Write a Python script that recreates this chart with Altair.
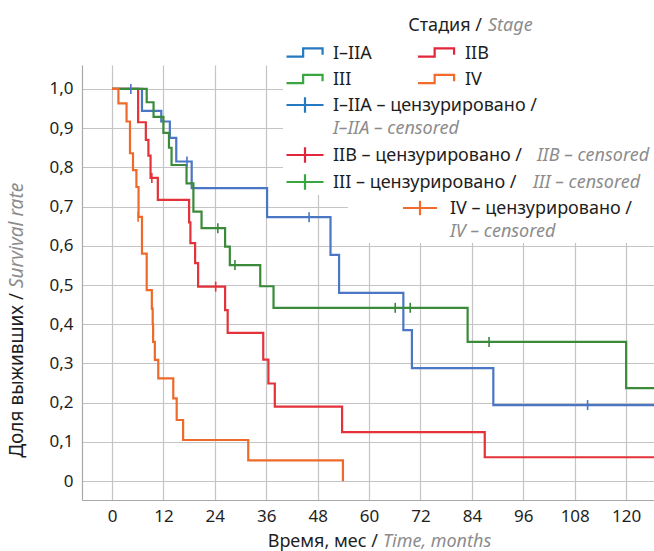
import altair as alt
import pandas as pd

# ---------------- data ----------------
stage_names = ["I–IIA", "IIB", "III", "IV"]

# step curves: time (months) and survival after each event
t_i_iia = [0, 7.0, 11.5, 13.5, 15.0, 18.6, 36.2, 51.0, 53.0, 68.0, 70.0, 89.0, 127]
s_i_iia = [1.0, 0.944, 0.917, 0.875, 0.815, 0.747, 0.673, 0.577, 0.480, 0.385, 0.288, 0.194, 0.194]

t_iib = [0, 6.1, 7.9, 8.5, 9.0, 10.7, 18.0, 18.3, 19.4, 20.1, 26.4, 27.0, 35.3, 36.5, 38.0, 53.7, 87.0, 127]
s_iib = [1.0, 0.915, 0.87, 0.83, 0.773, 0.717, 0.66, 0.607, 0.556, 0.496, 0.436, 0.378, 0.31, 0.249, 0.19, 0.125, 0.061, 0.061]

t_iii = [0, 8.1, 9.7, 12.0, 13.3, 13.9, 17.4, 19.0, 20.9, 26.4, 27.5, 34.6, 37.7, 83.0, 120.0, 127]
s_iii = [1.0, 0.966, 0.929, 0.888, 0.85, 0.806, 0.759, 0.687, 0.645, 0.598, 0.551, 0.497, 0.442, 0.355, 0.237, 0.237]

t_iv = [0, 1.5, 3.4, 4.2, 4.9, 5.7, 6.2, 7.0, 8.1, 9.3, 9.5, 9.6, 10.0, 10.8, 14.3, 15.1, 16.6, 31.8, 53.9]
s_iv = [1.0, 0.963, 0.917, 0.836, 0.793, 0.75, 0.674, 0.58, 0.487, 0.44, 0.40, 0.355, 0.309, 0.262, 0.211, 0.156, 0.105, 0.053, 0.0]

# censored observations
ct_i_iia = [4.4, 17.5, 46.0, 111.0]
cs_i_iia = [1.0, 0.815, 0.673, 0.194]
ct_iib = [9.3, 24.2]
cs_iib = [0.773, 0.496]
ct_iii = [24.7, 28.7, 66.1, 69.6, 88.0]
cs_iii = [0.645, 0.551, 0.442, 0.442, 0.355]
ct_iv = [6.1]
cs_iv = [0.674]

x_ticks = [0, 12, 24, 36, 48, 60, 72, 84, 96, 108, 120]
y_ticks = [0, 0.1, 0.2, 0.3, 0.4, 0.5, 0.6, 0.7, 0.8, 0.9, 1.0]

# ---------------- styles ----------------
FONT = "Noto Sans"
BLACK = "#1e1e1e"
GREY = "#8c8c8c"
curve_colors = ["#4a76c4", "#e3323a", "#3a8a3a", "#ef6a2a"]
legend_colors = {"I–IIA": "#2579c0", "IIB": "#e2263b", "III": "#3aa640", "IV": "#f36b2b"}
LEG_FS = 18
AX_FS = 17

X0, Y0 = 82, 65          # plot origin inside the page
W, H = 572, 435

def df_curve(stage, t, s):
    return pd.DataFrame({"stage": stage, "t": t, "s": s, "o": list(range(len(t)))})

curves = pd.concat([
    df_curve("I–IIA", t_i_iia, s_i_iia),
    df_curve("IIB", t_iib, s_iib),
    df_curve("III", t_iii, s_iii),
    df_curve("IV", t_iv, s_iv),
])
cens = pd.concat([
    pd.DataFrame({"stage": "I–IIA", "t": ct_i_iia, "s": cs_i_iia}),
    pd.DataFrame({"stage": "IIB", "t": ct_iib, "s": cs_iib}),
    pd.DataFrame({"stage": "III", "t": ct_iii, "s": cs_iii}),
    pd.DataFrame({"stage": "IV", "t": ct_iv, "s": cs_iv}),
])

xscale = alt.Scale(domain=[-7.0, 126.5], nice=False, zero=False)
yscale = alt.Scale(domain=[-0.048, 1.061], nice=False, zero=False)
xaxis = alt.Axis(values=x_ticks, title=None, grid=True, ticks=False, labelPadding=8,
                 labelFontSize=AX_FS, labelFont=FONT, labelColor=BLACK,
                 gridColor="#c4c4c4", gridWidth=1.2, domainColor="#a8a8a8", domainWidth=1.2,
                 labelFlush=False)
yaxis = alt.Axis(values=y_ticks, title=None, grid=True, ticks=False, labelPadding=9,
                 labelFontSize=AX_FS, labelFont=FONT, labelColor=BLACK,
                 gridColor="#c4c4c4", gridWidth=1.2, domainColor="#a8a8a8", domainWidth=1.2,
                 labelExpr="datum.value == 0 ? '0' : replace(format(datum.value, '.1f'), '.', ',')")
color = alt.Color("stage:N", scale=alt.Scale(domain=stage_names, range=curve_colors), legend=None)

one = pd.DataFrame({"a": [0]})

# white backdrop behind the legend
bg = alt.layer(
    alt.Chart(one).mark_rect(color="white").encode(
        x=alt.value(283 - X0), x2=alt.value(W), y=alt.value(0), y2=alt.value(195 - Y0)),
    alt.Chart(one).mark_rect(color="white").encode(
        x=alt.value(348 - X0), x2=alt.value(W), y=alt.value(195 - Y0), y2=alt.value(243 - Y0)),
)

lines = alt.Chart(curves).mark_line(interpolate="step-after", strokeWidth=2.2, clip=True).encode(
    x=alt.X("t:Q", scale=xscale, axis=xaxis),
    y=alt.Y("s:Q", scale=yscale, axis=yaxis),
    color=color,
    order="o:Q",
)
ticks = alt.Chart(cens).mark_point(shape="M0,-1L0,1", size=100, strokeWidth=1.6,
                                   filled=False, opacity=1, clip=True).encode(
    x=alt.X("t:Q", scale=xscale, axis=xaxis),
    y=alt.Y("s:Q", scale=yscale, axis=yaxis),
    color=color,
)

STEP = "M-1,0.22L-0.1,0.22L-0.1,-0.22L0.95,-0.22L0.95,0.12"
CROSS = "M-1,0L1,0M0,-0.42L0,0.42"

def glyph(shape, col, cx, cy, w=37):
    return alt.Chart(one).mark_point(shape=shape, size=w * w, filled=False, strokeWidth=2.2,
                                     color=col, opacity=1, strokeJoin="miter").encode(
        x=alt.value(cx - X0), y=alt.value(cy - Y0))

def txt(s, x, y, italic=False, align="left", size=LEG_FS, angle=0, baseline="alphabetic"):
    kw = dict(text=s, font=FONT, fontSize=size, color=GREY if italic else BLACK,
              align=align, baseline=baseline)
    if italic:
        kw["fontStyle"] = "italic"
    if angle:
        kw["angle"] = angle
    return alt.Chart(one).mark_text(**kw).encode(x=alt.value(x - X0), y=alt.value(y - Y0))

legend = [
    txt("Стадия /", 482, 31, align="right"),
    txt("Stage", 488, 31, italic=True),
    glyph(STEP, legend_colors["I–IIA"], 305, 52.5),
    txt("I–IIA", 333, 58.5),
    glyph(STEP, legend_colors["IIB"], 436.5, 52.5),
    txt("IIB", 465, 58.5),
    glyph(STEP, legend_colors["III"], 305, 79),
    txt("III", 333, 85),
    glyph(STEP, legend_colors["IV"], 436.5, 79),
    txt("IV", 465, 85),
    glyph(CROSS, legend_colors["I–IIA"], 305, 105),
    txt("I–IIA – цензурировано /", 333, 111),
    txt("I–IIA – censored", 333, 134, italic=True),
    glyph(CROSS, legend_colors["IIB"], 305, 155),
    txt("IIB – цензурировано /", 333, 161),
    txt("IIB – censored", 537, 161, italic=True),
    glyph(CROSS, legend_colors["III"], 305, 182),
    txt("III – цензурировано /", 333, 188),
    txt("III – censored", 533, 188, italic=True),
    glyph(CROSS, legend_colors["IV"], 420, 208, w=34),
    txt("IV – цензурировано /", 450, 214),
    txt("IV – censored", 450, 237, italic=True),
]

titles = [
    txt("Время, мес /", 378, 547, align="right", size=18),
    txt("Time, months", 383, 547, italic=True, size=18),
    txt("Доля выживших /", 17, 293, align="right", size=19, angle=270, baseline="middle"),
    txt("Survival rate", 17, 288, italic=True, align="left", size=19, angle=270, baseline="middle"),
]

chart = alt.layer(bg, lines, ticks, *legend, *titles).properties(
    width=W, height=H,
    padding={"left": X0, "top": Y0, "right": 0, "bottom": 551 - Y0 - H},
    autosize=alt.AutoSizeParams(type="none"),
).configure_view(stroke=None)

chart.save("out.html", embed_options={"renderer": "svg", "actions": False})
